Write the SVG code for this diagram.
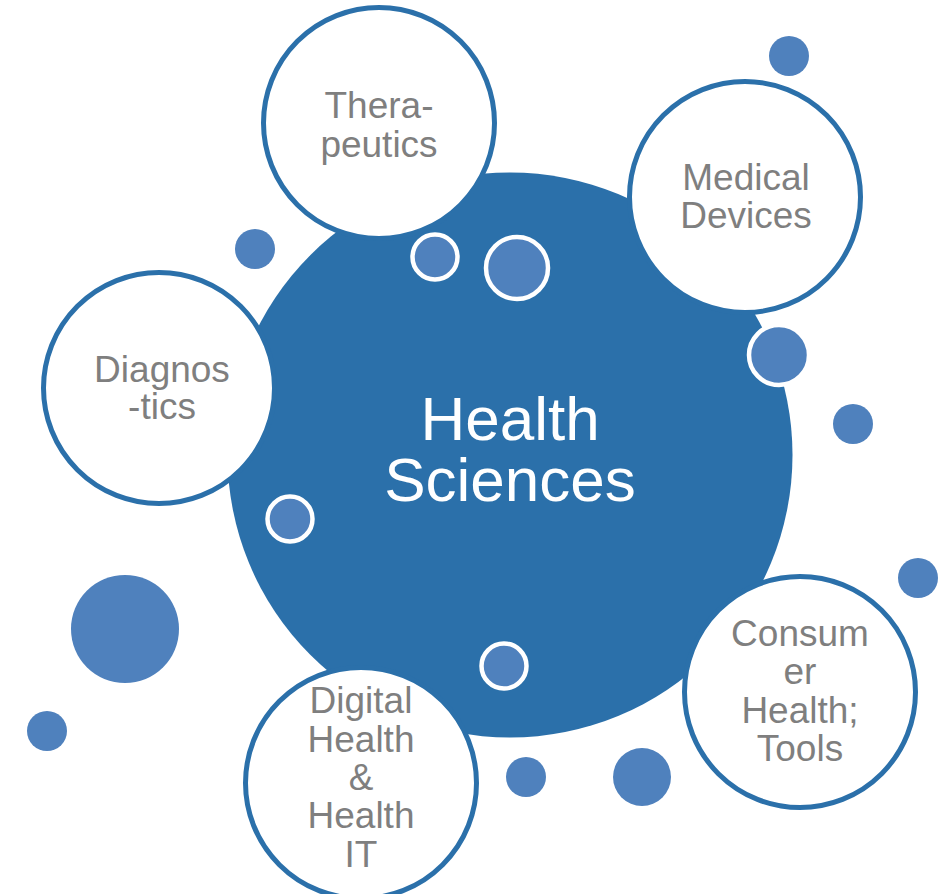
<svg xmlns="http://www.w3.org/2000/svg" width="940" height="894" viewBox="0 0 940 894">
<style>
.hub{fill:#2b70aa}
.dot{fill:#4f81bd}
.ring{fill:#4f81bd;stroke:#ffffff;stroke-width:4.5}
.node{fill:#ffffff;stroke:#2b70aa;stroke-width:5}
.lbl{font-family:"Liberation Sans",Arial,sans-serif;font-size:37px;fill:#7f7f7f;text-anchor:middle}
.hubt{font-family:"Liberation Sans",Arial,sans-serif;font-size:62px;fill:#ffffff;text-anchor:middle}
</style>
<rect width="940" height="894" fill="#ffffff"/>
<g id="connectors"></g>
<g id="hub">
<circle class="hub" cx="510" cy="455" r="282.5"/>
<text class="hubt" x="510" y="440">Health</text>
<text class="hubt" x="510" y="501">Sciences</text>
</g>
<g id="dots">
<circle class="dot" cx="789" cy="56" r="20"/>
<circle class="dot" cx="255" cy="249" r="20"/>
<circle class="dot" cx="853" cy="424" r="20"/>
<circle class="dot" cx="918" cy="578" r="20"/>
<circle class="dot" cx="125" cy="629" r="54"/>
<circle class="dot" cx="47" cy="731" r="20"/>
<circle class="dot" cx="526" cy="777" r="20"/>
<circle class="dot" cx="642" cy="777" r="29"/>
</g>
<g id="therapeutics">
<circle class="node" cx="379" cy="123" r="115.5"/>
<text class="lbl" x="379" y="118">Thera-</text>
<text class="lbl" x="379" y="157">peutics</text>
</g>
<g id="medical-devices">
<circle class="node" cx="745" cy="197" r="115.5"/>
<text class="lbl" x="746" y="190">Medical</text>
<text class="lbl" x="746" y="228">Devices</text>
</g>
<g id="diagnostics">
<circle class="node" cx="159" cy="388" r="115.5"/>
<text class="lbl" x="162" y="382">Diagnos</text>
<text class="lbl" x="162" y="419">-tics</text>
</g>
<g id="consumer-health">
<circle class="node" cx="800" cy="692" r="115.5"/>
<text class="lbl" x="800" y="646">Consum</text>
<text class="lbl" x="800" y="684">er</text>
<text class="lbl" x="800" y="723">Health;</text>
<text class="lbl" x="800" y="761">Tools</text>
</g>
<g id="digital-health">
<circle class="node" cx="361" cy="783" r="115.5"/>
<text class="lbl" x="361" y="713">Digital</text>
<text class="lbl" x="361" y="752">Health</text>
<text class="lbl" x="361" y="790">&amp;</text>
<text class="lbl" x="361" y="828">Health</text>
<text class="lbl" x="361" y="867">IT</text>
</g>
<g id="rings">
<circle class="ring" cx="435" cy="257" r="22.5"/>
<circle class="ring" cx="517" cy="268" r="31"/>
<circle class="ring" cx="779" cy="355" r="30"/>
<circle class="ring" cx="290" cy="519" r="22.5"/>
<circle class="ring" cx="504" cy="666" r="22.5"/>
</g>
</svg>
